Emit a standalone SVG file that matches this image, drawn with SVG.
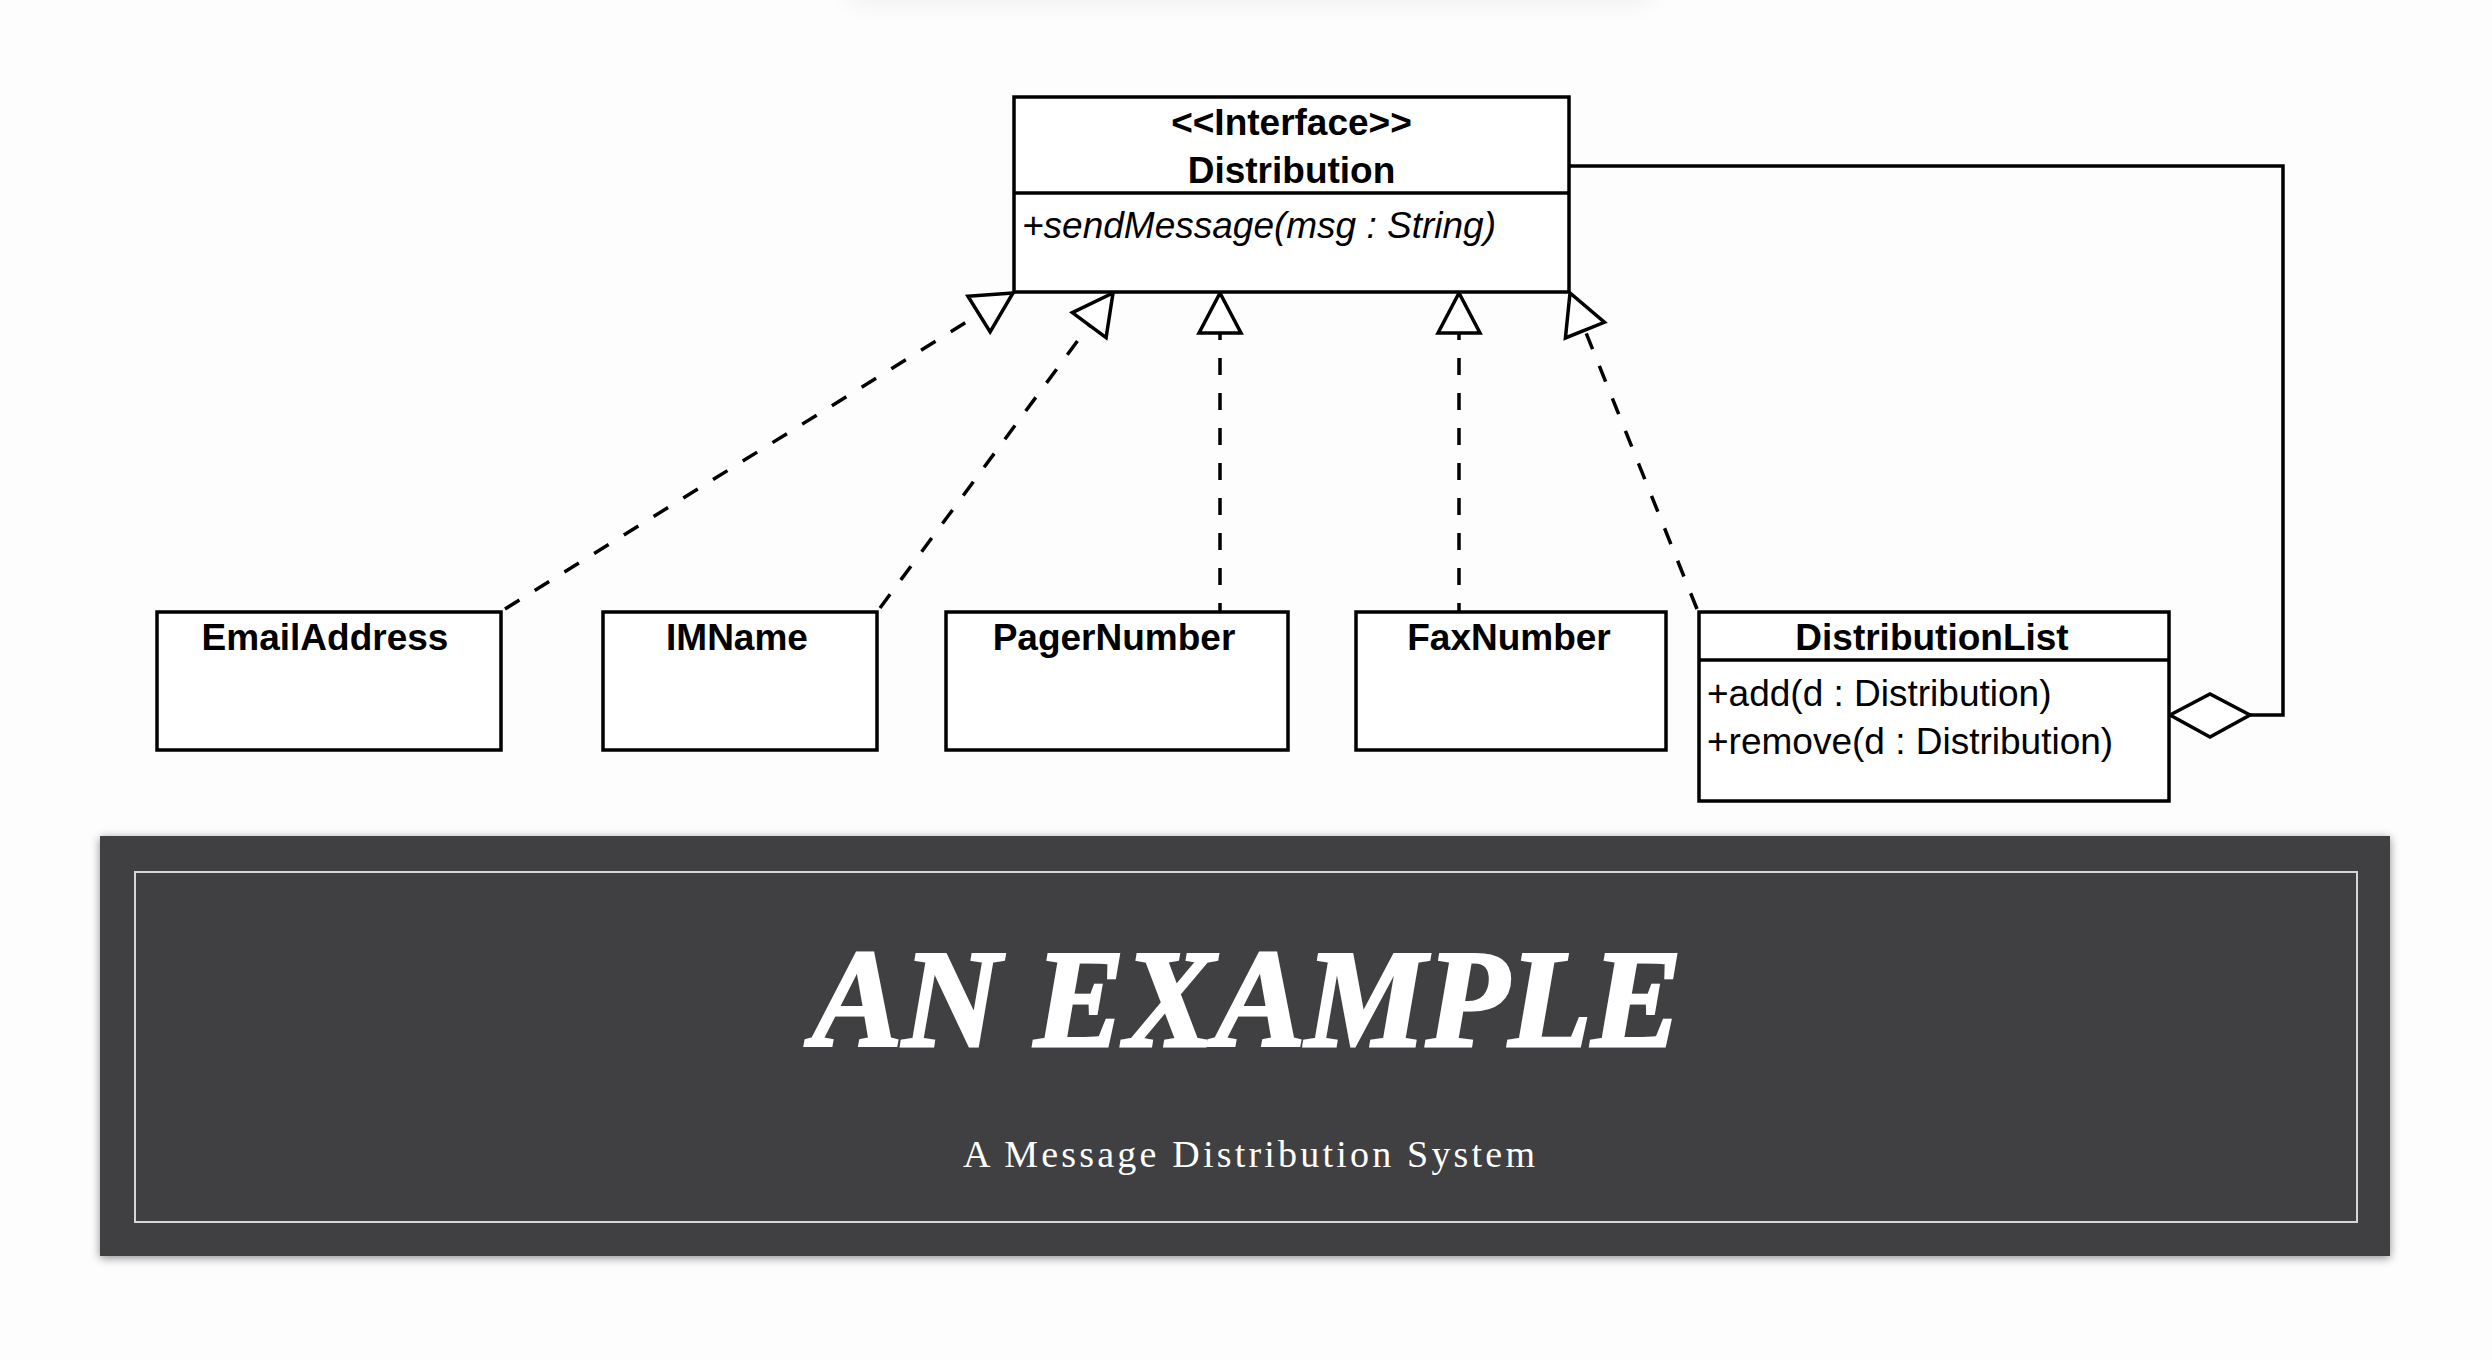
<svg xmlns="http://www.w3.org/2000/svg" width="2492" height="1360" viewBox="0 0 2492 1360">
  <style>
    .box { fill: #ffffff; stroke: #000000; stroke-width: 3.5; }
    .sep { stroke: #000000; stroke-width: 3.5; fill: none; }
    .name { font-family: "Liberation Sans", Arial, sans-serif; font-weight: bold; font-size: 37px; fill: #000000; text-anchor: middle; }
    .op { font-family: "Liberation Sans", Arial, sans-serif; font-size: 37px; fill: #000000; }
    .ital { font-style: italic; }
    .dash { fill: none; stroke: #000000; stroke-width: 3.5; stroke-dasharray: 17 18; marker-end: url(#realize); }
    .solid { fill: none; stroke: #000000; stroke-width: 3.5; }
    .title { font-family: "Liberation Serif", "Times New Roman", serif; font-weight: bold; font-style: italic; font-size: 140px; fill: #ffffff; stroke: #ffffff; stroke-width: 3; text-anchor: middle; }
    .subtitle { font-family: "Liberation Serif", "Times New Roman", serif; font-size: 38px; fill: #ffffff; text-anchor: middle; }
  </style>
  <defs>
    <marker id="realize" markerUnits="userSpaceOnUse" viewBox="-4 -26 48 52" markerWidth="48" markerHeight="52" refX="40" refY="0" orient="auto">
      <path d="M0,-21 L40,0 L0,21 Z" fill="#ffffff" stroke="#000000" stroke-width="3.5" stroke-dasharray="none" stroke-linejoin="miter"/>
    </marker>
    <filter id="bannerShadow" x="-5%" y="-10%" width="110%" height="120%">
      <feDropShadow dx="0" dy="2" stdDeviation="5" flood-color="#000000" flood-opacity="0.45"/>
    </filter>
    <filter id="topShadow" x="-20%" y="-200%" width="140%" height="500%">
      <feGaussianBlur stdDeviation="14"/>
    </filter>
  </defs>

  <rect x="0" y="0" width="2492" height="1360" fill="#fdfdfd"/>
  <rect x="850" y="-40" width="800" height="40" fill="#000000" opacity="0.07" filter="url(#topShadow)"/>

  <g id="connectors">
    <path class="dash" d="M505,609 L1013,293"/>
    <path class="dash" d="M880,608 L1113,293"/>
    <path class="dash" stroke-dashoffset="8" d="M1220,612 L1220,293"/>
    <path class="dash" stroke-dashoffset="8" d="M1459,612 L1459,293"/>
    <path class="dash" d="M1697,609 L1570,293"/>
    <polyline class="solid" points="1569,166 2283,166 2283,715 2250,715"/>
    <polygon points="2170,715 2210,694 2250,715 2210,737" fill="#ffffff" stroke="#000000" stroke-width="3.5"/>
  </g>

  <g id="node-distribution">
    <rect class="box" x="1014" y="97" width="555" height="195"/>
    <line class="sep" x1="1014" y1="193" x2="1569" y2="193"/>
    <text class="name" x="1291.5" y="135">&lt;&lt;Interface&gt;&gt;</text>
    <text class="name" x="1291.5" y="183">Distribution</text>
    <text class="op ital" x="1022" y="238">+sendMessage(msg : String)</text>
  </g>

  <g id="node-emailaddress">
    <rect class="box" x="157" y="612" width="344" height="138"/>
    <text class="name" x="325" y="650">EmailAddress</text>
  </g>

  <g id="node-imname">
    <rect class="box" x="603" y="612" width="274" height="138"/>
    <text class="name" x="737" y="650">IMName</text>
  </g>

  <g id="node-pagernumber">
    <rect class="box" x="946" y="612" width="342" height="138"/>
    <text class="name" x="1114" y="650">PagerNumber</text>
  </g>

  <g id="node-faxnumber">
    <rect class="box" x="1356" y="612" width="310" height="138"/>
    <text class="name" x="1509" y="650">FaxNumber</text>
  </g>

  <g id="node-distributionlist">
    <rect class="box" x="1699" y="612" width="470" height="189"/>
    <line class="sep" x1="1699" y1="660" x2="2169" y2="660"/>
    <text class="name" x="1932" y="650">DistributionList</text>
    <text class="op" x="1707" y="706">+add(d : Distribution)</text>
    <text class="op" x="1707" y="754">+remove(d : Distribution)</text>
  </g>

  <g id="banner">
    <rect x="100" y="836" width="2290" height="420" fill="#414042" filter="url(#bannerShadow)"/>
    <rect x="135" y="872" width="2222" height="350" fill="none" stroke="#d6d6d6" stroke-width="2"/>
    <text class="title" x="1247" y="1046" textLength="870" lengthAdjust="spacingAndGlyphs">AN EXAMPLE</text>
    <text class="subtitle" x="1249" y="1167" textLength="572" lengthAdjust="spacing">A Message Distribution System</text>
  </g>
</svg>
